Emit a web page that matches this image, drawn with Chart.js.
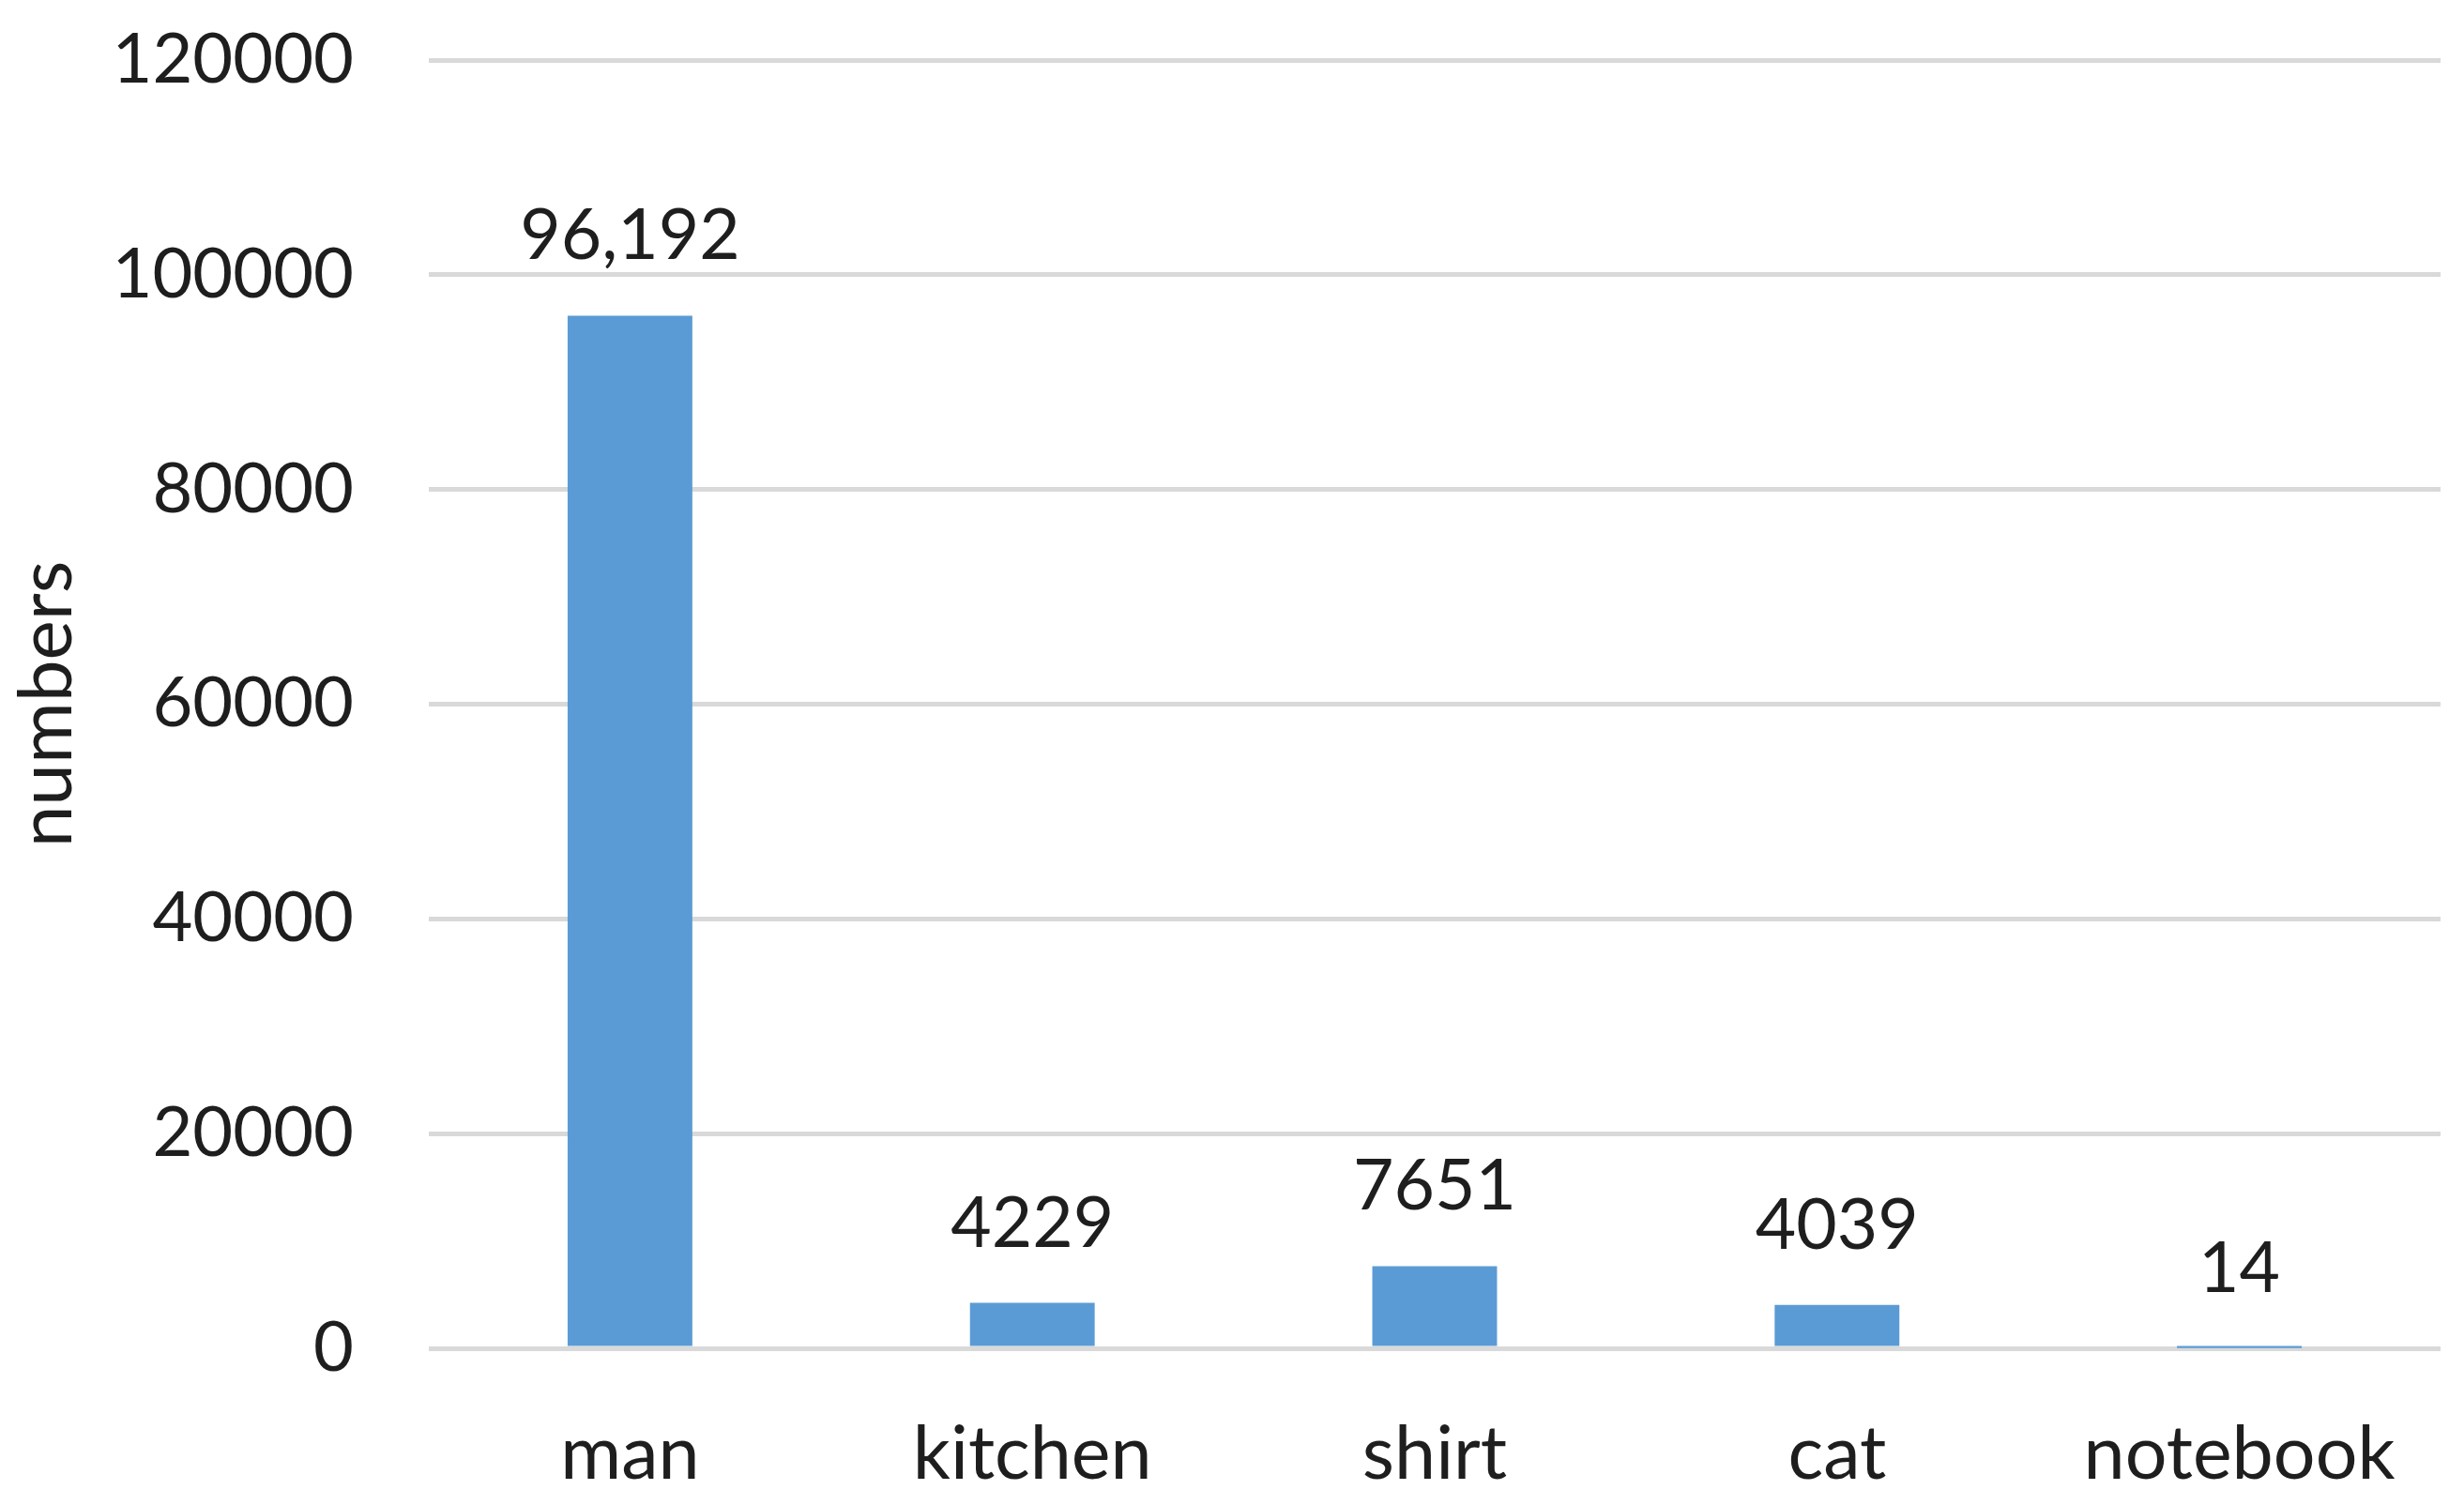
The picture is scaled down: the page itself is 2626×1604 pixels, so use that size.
<!DOCTYPE html>
<html>
<head>
<meta charset="utf-8">
<script src="https://cdn.jsdelivr.net/npm/chart.js@4.4.1/dist/chart.umd.min.js"></script>
<style>
  html, body { margin: 0; padding: 0; background: #ffffff; }
  #wrap { width: 2626px; height: 1604px; }
</style>
</head>
<body>
<div id="wrap"><canvas id="c" width="2626" height="1604"></canvas></div>
<script>
const categories = ["man", "kitchen", "shirt", "cat", "notebook"];
const values = [96192, 4229, 7651, 4039, 14];
const valueLabels = ["96,192", "4229", "7651", "4039", "14"];
const yTicks = [0, 20000, 40000, 60000, 80000, 100000, 120000];
const yTitle = "numbers";

const FONT = "Lato";
const TEXT = "#1e1e1e";

const valueLabelPlugin = {
  id: "valueLabels",
  afterDatasetsDraw(chart) {
    const ctx = chart.ctx;
    const meta = chart.getDatasetMeta(0);
    ctx.save();
    ctx.font = "75px " + FONT;
    ctx.fillStyle = TEXT;
    ctx.textAlign = "center";
    ctx.textBaseline = "alphabetic";
    meta.data.forEach((bar, i) => {
      ctx.fillText(valueLabels[i], bar.x, bar.y - 60);
    });
    ctx.restore();
  }
};

new Chart(document.getElementById("c"), {
  type: "bar",
  data: {
    labels: categories,
    datasets: [{
      data: values,
      backgroundColor: "#5b9bd5",
      borderWidth: 0,
      categoryPercentage: 1.0,
      barPercentage: 0.31
    }]
  },
  options: {
    responsive: false,
    animation: false,
    devicePixelRatio: 1,
    layout: { padding: { left: 0, top: 64, right: 25, bottom: 0 } },
    plugins: { legend: { display: false }, tooltip: { enabled: false } },
    scales: {
      x: {
        grid: { display: false, drawTicks: false },
        border: { display: false },
        ticks: {
          color: TEXT,
          font: { family: FONT, size: 79 },
          padding: 66,
          maxRotation: 0
        },
        afterFit(scale) { scale.height = 1604 - 1437; }
      },
      y: {
        min: 0,
        max: 120000,
        afterBuildTicks(scale) { scale.ticks = yTicks.map(v => ({ value: v })); },
        grid: { color: "#d9d9d9", lineWidth: 5, drawTicks: false },
        border: { display: false },
        ticks: {
          color: TEXT,
          font: { family: FONT, size: 74 },
          padding: 80,
          callback: v => String(v)
        },
        title: {
          display: true,
          text: yTitle,
          color: TEXT,
          font: { family: FONT, size: 80 },
          padding: { top: 2, bottom: 0 }
        },
        afterFit(scale) {
          scale.width = 457;
          scale.paddingTop = 0;
          scale.paddingBottom = 0;
        }
      }
    }
  },
  plugins: [valueLabelPlugin]
});
</script>
</body>
</html>
